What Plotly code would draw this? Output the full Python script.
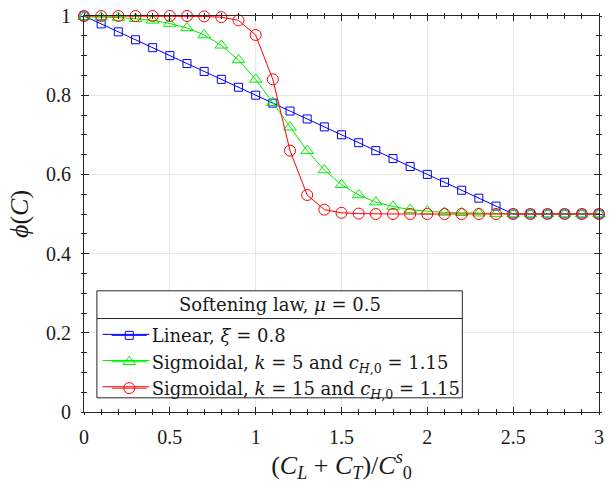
import plotly.graph_objects as go

x_vals = [0.0, 0.1, 0.2, 0.3, 0.4, 0.5, 0.6, 0.7, 0.8, 0.9, 1.0, 1.1, 1.2, 1.3, 1.4, 1.5,
          1.6, 1.7, 1.8, 1.9, 2.0, 2.1, 2.2, 2.3, 2.4, 2.5, 2.6, 2.7, 2.8, 2.9, 3.0]
linear_vals = [1.00, 0.98, 0.96, 0.94, 0.92, 0.90, 0.88, 0.86, 0.84, 0.82, 0.80, 0.78, 0.76, 0.74,
               0.72, 0.70, 0.68, 0.66, 0.64, 0.62, 0.60, 0.58, 0.56, 0.54, 0.52, 0.50, 0.50, 0.50,
               0.50, 0.50, 0.50]
sig5_vals = [0.998, 0.997, 0.996, 0.993, 0.989, 0.981, 0.970, 0.952, 0.926, 0.889, 0.840, 0.781,
             0.719, 0.660, 0.611, 0.574, 0.548, 0.530, 0.519, 0.511, 0.507, 0.504, 0.503, 0.502,
             0.501, 0.500, 0.500, 0.500, 0.500, 0.500, 0.500]
sig15_vals = [1.000, 1.000, 1.000, 1.000, 1.000, 1.000, 1.000, 0.999, 0.997, 0.989, 0.952, 0.840,
              0.660, 0.548, 0.511, 0.503, 0.501, 0.500, 0.500, 0.500, 0.500, 0.500, 0.500, 0.500,
              0.500, 0.500, 0.500, 0.500, 0.500, 0.500, 0.500]

series_names = ["Linear, <i>ξ</i> = 0.8",
                "Sigmoidal, <i>k</i> = 5 and <i>c</i><sub><i>H</i>,0</sub> = 1.15",
                "Sigmoidal, <i>k</i> = 15 and <i>c</i><sub><i>H</i>,0</sub> = 1.15"]
legend_title = "Softening law, <i>μ</i> = 0.5"
x_ticks = [0, 0.5, 1, 1.5, 2, 2.5, 3]
x_ticklabels = ["0", "0.5", "1", "1.5", "2", "2.5", "3"]
y_ticks = [0, 0.2, 0.4, 0.6, 0.8, 1]
y_ticklabels = ["0", "0.2", "0.4", "0.6", "0.8", "1"]

FONT = "Liberation Serif"
LFONT = "DejaVu Serif"
AX = "#262626"
TXT = "#1a1a1a"
colors = ["#0000ff", "#00ee00", "#ff0000"]
symbols = ["square-open", "triangle-up-open", "circle-open"]
sizes = [8, 11, 11]

fig = go.Figure()
for i, ys in enumerate([linear_vals, sig5_vals, sig15_vals]):
    fig.add_trace(go.Scatter(
        x=x_vals, y=ys, mode="lines+markers", name=series_names[i],
        line=dict(color=colors[i], width=1),
        marker=dict(symbol=symbols[i], size=sizes[i], color=colors[i], line=dict(width=1, color=colors[i])),
        cliponaxis=False, legendgroup=str(i),
    ))

common = dict(showline=True, linecolor=AX, linewidth=1, mirror="ticks", zeroline=False,
              tickcolor=AX, tickfont=dict(family=FONT, size=20, color=TXT))

fig.update_layout(
    width=609, height=483,
    margin=dict(l=84, r=5, t=13, b=71),
    paper_bgcolor="white", plot_bgcolor="white",
    font=dict(family=FONT, color=TXT),
    xaxis=dict(range=[0, 3], tickvals=x_ticks, ticktext=x_ticklabels, ticks="inside", ticklen=5,
               showgrid=True, gridcolor="#e8e8e8", gridwidth=1,
               minor=dict(dtick=0.1, tick0=0, ticks="inside", ticklen=3, tickcolor=AX, showgrid=False),
               title=dict(text="(<i>C</i><sub><i>L</i></sub>\u00a0+\u00a0<i>C</i><sub><i>T</i></sub>)/<i>C</i><sup><i>s</i></sup><sub>0</sub>",
                          font=dict(family=FONT, size=26), standoff=3),
               ticklabelstandoff=7, **common),
    yaxis=dict(range=[0, 1], tickvals=y_ticks, ticktext=y_ticklabels, ticks="inside", ticklen=5,
               showgrid=True, gridcolor="#e8e8e8", gridwidth=1,
               minor=dict(dtick=0.05, tick0=0, ticks="inside", ticklen=3, tickcolor=AX, showgrid=False),
               title=dict(text="<i>ϕ</i>(<i>C</i>)", font=dict(family=FONT, size=26), standoff=9),
               ticklabelstandoff=8, **common),
    xaxis2=dict(range=[0, 3], overlaying="x", side="bottom", showline=False, showgrid=False,
                zeroline=False, tickvals=x_ticks, ticks="outside", ticklen=2, tickcolor=AX,
                showticklabels=False, mirror="ticks",
                minor=dict(dtick=0.1, tick0=0, ticks="outside", ticklen=2, tickcolor=AX)),
    yaxis2=dict(range=[0, 1], overlaying="y", side="left", showline=False, showgrid=False,
                zeroline=False, tickvals=y_ticks, ticks="outside", ticklen=2, tickcolor=AX,
                showticklabels=False, mirror="ticks",
                minor=dict(dtick=0.05, tick0=0, ticks="outside", ticklen=2, tickcolor=AX)),
    legend=dict(x=0.0442, y=0.2395, xanchor="left", yanchor="top", bgcolor="rgba(0,0,0,0)",
                borderwidth=0, font=dict(family=LFONT, size=18, color=TXT),
                tracegroupgap=0, itemwidth=35),
    showlegend=True,
)

# legend frame
fig.add_shape(type="rect", xref="paper", yref="paper", x0=0.025, x1=0.7346, y0=0.0358, y1=0.306,
              line=dict(color="#262626", width=1), fillcolor="white", layer="above")
fig.add_shape(type="line", xref="paper", yref="paper", x0=0.025, x1=0.7346, y0=0.236, y1=0.236,
              line=dict(color="#262626", width=1), layer="above")
fig.add_annotation(xref="paper", yref="paper", x=(0.025 + 0.7346) / 2, y=0.271, text=legend_title,
                   showarrow=False, font=dict(family=LFONT, size=18, color=TXT),
                   xanchor="center", yanchor="middle")
# longer legend sample lines (MATLAB style)
for yy, c in zip([0.196, 0.130, 0.0638], colors):
    fig.add_shape(type="line", xref="paper", yref="paper", x0=0.036, x1=0.1269, y0=yy, y1=yy,
                  line=dict(color=c, width=1), layer="above")

# dummy invisible trace to activate overlay axes
fig.add_trace(go.Scatter(x=[None], y=[None], xaxis="x2", yaxis="y2", showlegend=False, hoverinfo="skip"))

fig.write_html("out.html")
